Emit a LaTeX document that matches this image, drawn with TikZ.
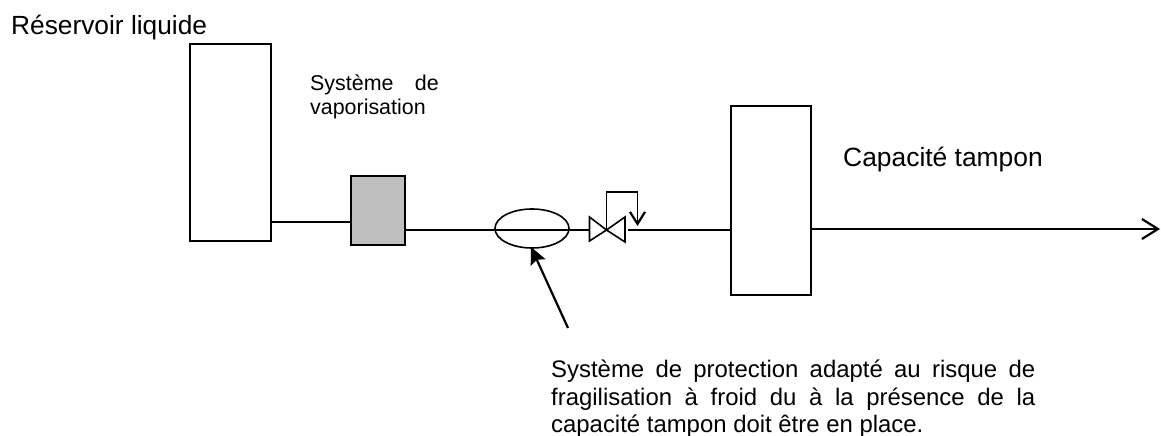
\documentclass[tikz,border=0pt]{standalone}
\usepackage{fontspec}
\setmainfont{Liberation Sans}
\usetikzlibrary{arrows.meta}
\tikzset{
 x=1bp,y=-1bp,
 vessel/.style={draw=black,line width=1.6bp,fill=white,minimum width=0,inner sep=0},
 pipe/.style={draw=black,line width=1.9bp},
 openhead/.style={-{Straight Barb[length=12bp,width=15bp,line width=2.2bp]}},
 outhead/.style={-{Straight Barb[length=16bp,width=20bp,line width=2.2bp]}},
 lab/.style={inner sep=0,anchor=base west,font=\fontsize{21.5}{26}\selectfont},
}
\begin{document}
\begin{tikzpicture}
\useasboundingbox (0,0) rectangle (1161,436);
\node[vessel,minimum width=81bp,minimum height=197bp] (res) at (230.5,142.5) {};
\node[vessel,fill={rgb,255:red,191;green,191;blue,191},minimum width=54bp,minimum height=69bp] (vap) at (378,210.5) {};
\node[vessel,minimum width=80bp,minimum height=189bp] (cap) at (771,200.5) {};
\draw[line width=1.6bp] (532,228.5) ellipse [x radius=37,y radius=19.5];
\coordinate (vc) at (606.5,230);
\coordinate (vl) at (589.5,230);
\coordinate (vr) at (625,230);
\coordinate (fb1) at (606.5,192);
\coordinate (fb2) at (637.5,192);
\coordinate (fb3) at (637.5,226);
\coordinate (fb4) at (637.5,212);
\coordinate (out) at (1160,229);
\coordinate (tail) at (568,328);
\coordinate (head) at (531,247);
\draw[pipe] (res.east |- 0,222) -- (vap.west |- 0,222);
\draw[pipe] (vap.east |- 0,230) -- (vl);
\draw[pipe] (628,230) -- (cap.west |- 0,230);
\draw[pipe] (cap.east |- 0,229) -- (1145,229);
\draw[pipe,outhead] (1140,229) -- (out);
\draw[line width=1.6bp,fill=white] (vl |- 0,217) -- (vc) -- (vr |- 0,242) -- (vr |- 0,217) -- (vc) -- (vl |- 0,241) -- cycle;
\draw[pipe] (vc) -- (fb1) -- (fb2) -- (fb4);
\draw[pipe,openhead] (fb4) -- (fb3);
\draw[line width=2.2bp,-{Stealth[length=17bp,width=16bp,inset=3bp]}] (tail) -- (head);
\node[lab,font=\fontsize{26.4}{30}\selectfont] (t1) at (11,35) {Réservoir liquide};
\node[lab] (t2a) at (310,91) {Système};
\node[lab,anchor=base east] (t2b) at (439,91) {de};
\node[lab] (t2c) at (310,115) {vaporisation};
\node[lab,font=\fontsize{26.5}{30}\selectfont] (t3) at (843,167) {Capacité tampon};
\node[lab,font=\fontsize{24}{27.5}\selectfont,anchor=base west,text width=484bp,align=justify] (t4) at (551,378) {Système de protection adapté au risque de\linebreak fragilisation à froid du à la présence de la\linebreak capacité tampon doit être en place.};
\end{tikzpicture}
\end{document}
